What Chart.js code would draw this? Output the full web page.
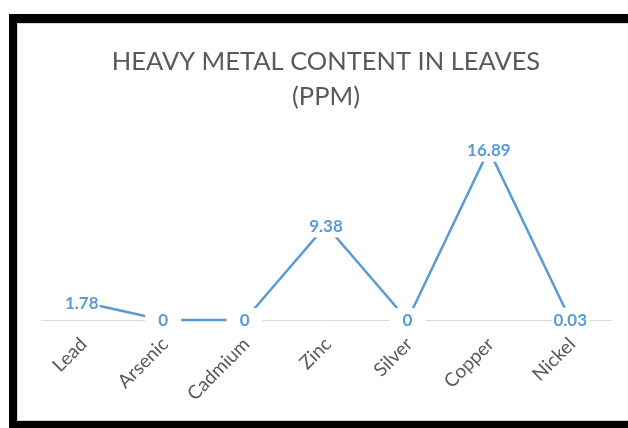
<!DOCTYPE html>
<html>
<head>
<meta charset="utf-8">
<script src="https://cdn.jsdelivr.net/npm/chart.js@4/dist/chart.umd.min.js"></script>
<style>
  html, body { margin: 0; padding: 0; background: #fff; width: 628px; height: 428px; overflow: hidden; }
  #frame {
    position: absolute; left: 9px; top: 14px;
    width: 640px; height: 398px;
    border-left: 8px solid #000; border-top: 9px solid #000; border-bottom: 9px solid #000;
    box-shadow: inset 1px 1px 0 #d4d4d4, inset 0 -1px 0 #d4d4d4;
  }
  #wrap { position: absolute; left: 0; top: 0; width: 620px; height: 398px; }
</style>
</head>
<body>
<div id="frame"><div id="wrap"><canvas id="c"></canvas></div></div>
<script>
const categories = ["Lead", "Arsenic", "Cadmium", "Zinc", "Silver", "Copper", "Nickel"];
const values = [1.78, 0, 0, 9.38, 0, 16.89, 0.03];
const titleLines = ["HEAVY METAL CONTENT IN LEAVES", "(PPM)"];

const BLUE = '#5b9bd5';
const GREY = '#595959';

const labelPlugin = {
  id: 'valueLabels',
  afterDatasetsDraw(chart) {
    const ctx = chart.ctx;
    const meta = chart.getDatasetMeta(0);
    ctx.save();
    ctx.font = 'bold 17px Lato';
    ctx.textAlign = 'center';
    ctx.textBaseline = 'middle';
    meta.data.forEach((pt, i) => {
      const txt = String(chart.data.datasets[0].data[i]);
      const tw = ctx.measureText(txt).width;
      const w = Math.max(tw + 2, 36);
      const h = 24;
      ctx.fillStyle = '#ffffff';
      ctx.fillRect(pt.x - w / 2, pt.y - h / 2, w, h);
      ctx.fillStyle = BLUE;
      ctx.fillText(txt, pt.x, pt.y + 1);
    });
    ctx.restore();
  }
};

new Chart(document.getElementById('c'), {
  type: 'line',
  data: {
    labels: categories,
    datasets: [{
      data: values,
      borderColor: BLUE,
      borderWidth: 2.5,
      pointRadius: 0,
      tension: 0,
      fill: false,
      clip: false
    }]
  },
  options: {
    responsive: true,
    maintainAspectRatio: false,
    animation: false,
    layout: { padding: { left: 24, right: 26, top: 0, bottom: 0 } },
    plugins: {
      legend: { display: false },
      tooltip: { enabled: false },
      title: {
        display: true,
        text: titleLines,
        color: GREY,
        font: { family: 'Lato', size: 25.5, weight: 'normal', lineHeight: 1.38 },
        padding: { top: 21, bottom: 4 }
      }
    },
    scales: {
      x: {
        offset: true,
        grid: { display: false, drawTicks: false },
        border: { display: true, color: '#d9d9d9', width: 1 },
        ticks: {
          color: GREY,
          font: { family: 'Lato', size: 19 },
          minRotation: 45,
          maxRotation: 45,
          padding: 13,
          labelOffset: 2
        },
        afterFit(scale) { scale.height = 101; }
      },
      y: {
        display: false,
        min: 0,
        max: 20
      }
    }
  },
  plugins: [labelPlugin]
});
</script>
</body>
</html>
